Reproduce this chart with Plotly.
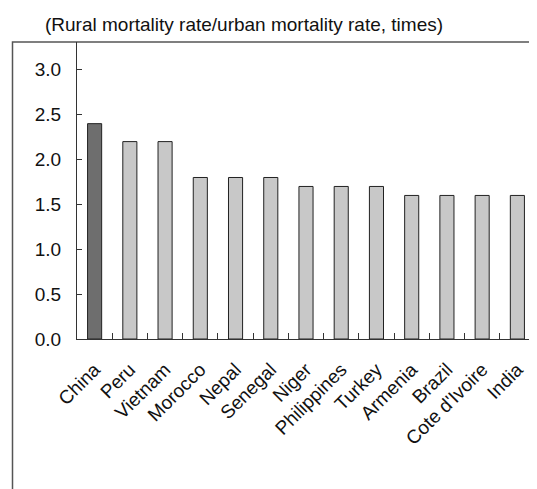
import plotly.graph_objects as go

countries = ["China", "Peru", "Vietnam", "Morocco", "Nepal", "Senegal", "Niger",
             "Philippines", "Turkey", "Armenia", "Brazil", "Cote d'Ivoire", "India"]
ratios = [2.4, 2.2, 2.2, 1.8, 1.8, 1.8, 1.7, 1.7, 1.7, 1.6, 1.6, 1.6, 1.6]
bar_colors = ["#6e6e6e"] + ["#c8c8c8"] * 12
y_ticks = [0.0, 0.5, 1.0, 1.5, 2.0, 2.5, 3.0]
title_text = "(Rural mortality rate/urban mortality rate, times)"

OFF = 8  # page body offset
W, H = 537 - OFF, 489 - OFF
L, R, T = 77 - OFF, 2, 42 - OFF
ph = 297
B = H - T - ph
pw = W - L - R

FONT = "Liberation Sans, Arial, Helvetica, sans-serif"
FS = 19

fig = go.Figure(go.Bar(
    x=countries, y=ratios,
    marker=dict(color=bar_colors, line=dict(color="#222222", width=1)),
))

fig.update_layout(
    width=W, height=H,
    margin=dict(l=L, r=R, t=T, b=B, pad=0, autoexpand=False),
    paper_bgcolor="white", plot_bgcolor="white",
    font=dict(family=FONT, size=FS, color="#111111"),
    bargap=0.6,
    showlegend=False,
)

fig.update_xaxes(
    type="category",
    tickangle=-45,
    ticks="inside", ticklen=6, tickcolor="#333333", tickwidth=1,
    tickson="boundaries",
    showline=True, linecolor="#333333", linewidth=1,
    showgrid=False, automargin=False,
    tickfont=dict(size=FS),
    ticklabelstandoff=11,
)
fig.update_yaxes(
    range=[0, 3.31],
    tickvals=y_ticks,
    ticktext=[f"{v:.1f}" for v in y_ticks],
    ticks="inside", ticklen=5, tickcolor="#333333", tickwidth=1,
    showline=True, linecolor="#333333", linewidth=1,
    showgrid=False, zeroline=False, automargin=False,
    tickfont=dict(size=FS),
    ticklabelstandoff=11,
)

# outer frame (left and top edges visible, rest clipped by page)
fig.add_shape(type="rect", xref="paper", yref="paper",
              x0=(12.5 - OFF - L) / pw, x1=(W + 20 - L) / pw,
              y0=-(H + 20 - T - ph) / ph, y1=1.0,
              line=dict(color="#555555", width=1.5), layer="below")

fig.add_annotation(
    text=title_text, showarrow=False,
    xref="paper", yref="paper",
    x=(43 - OFF - L) / pw, xanchor="left",
    y=1 + (T - (24 - OFF)) / ph, yanchor="middle",
    font=dict(size=FS, family=FONT, color="#111111"),
)

fig.write_html("out.html")
